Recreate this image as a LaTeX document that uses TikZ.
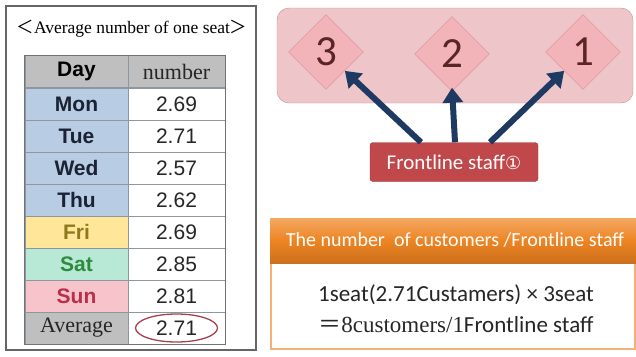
\documentclass[tikz,border=0pt]{standalone}
\usepackage{fontspec}
\setmainfont{Liberation Serif}
\newfontfamily\tabsans{Liberation Sans}
\newfontfamily\calib{Carlito}
\newfontfamily\cjk{Noto Sans CJK JP}
\newfontfamily\symb{DejaVu Sans}
\usetikzlibrary{arrows.meta,shapes.geometric}

\definecolor{hdrgray}{HTML}{BFBFBF}
\definecolor{cellline}{HTML}{8E96A0}
\definecolor{wkblue}{HTML}{B8CCE4}
\definecolor{wktext}{HTML}{1A2233}
\definecolor{friyel}{HTML}{FFE699}
\definecolor{fritext}{HTML}{8C7A1E}
\definecolor{satgrn}{HTML}{B8E8D6}
\definecolor{sattext}{HTML}{2E8B3E}
\definecolor{sunpink}{HTML}{F8C4CC}
\definecolor{suntext}{HTML}{B8304A}
\definecolor{ringred}{HTML}{A8404E}
\definecolor{panelpink}{HTML}{EEC6C9}
\definecolor{paneledge}{HTML}{C98A90}
\definecolor{diafill}{HTML}{F2B4B8}
\definecolor{diaedge}{HTML}{D98E96}
\definecolor{digit}{HTML}{5A2525}
\definecolor{staffred}{HTML}{C0474A}
\definecolor{arrownavy}{HTML}{1F3A62}
\definecolor{hdrorange}{HTML}{EE8422}
\definecolor{boxorange}{HTML}{F4B27A}

\tikzset{
  daycell/.style={draw=cellline, minimum width=103, minimum height=32, inner sep=0pt,
    font=\tabsans\bfseries\fontsize{21}{21}\selectfont},
  numcell/.style={draw=cellline, fill=white, minimum width=97, minimum height=32, inner sep=0pt,
    text=black!85, font=\tabsans\fontsize{21}{21}\selectfont},
  seatbox/.style={diamond, draw=diaedge, fill=diafill, minimum width=75, minimum height=75,
    inner sep=0pt, text=digit, font=\calib\fontsize{43}{43}\selectfont},
  bigarrow/.style={arrownavy, line width=6, -{Triangle[length=15,width=20]}},
  bodyline/.style={font=\calib\fontsize{23}{23}\selectfont, text=black!85}
}

\begin{document}
\begin{tikzpicture}[x=1pt,y=-1pt]
  \useasboundingbox (0,0) rectangle (636,356);
  % Panel 1: average per seat table
  \begin{scope}
    \draw[black!60, line width=1.2] (6,6) rectangle (256,350);
    \node (title) at (132,29) {\fontsize{17.5}{17.5}\selectfont{\cjk ＜}Average number of one seat{\cjk ＞}};
    \node[daycell, fill=hdrgray, text=black] (dayhead) at (76.5,71.5) {Day};
    \node[numcell, fill=hdrgray, font=\fontsize{22}{22}\selectfont] (numhead) at (176.5,71.5) {number};
    \node[daycell, fill=wkblue, text=wktext] (mon) at (76.5,104) {Mon};
    \node[numcell] (monnum) at (176.5,104) {2.69};
    \node[daycell, fill=wkblue, text=wktext] (tue) at (76.5,136) {Tue};
    \node[numcell] (tuenum) at (176.5,136) {2.71};
    \node[daycell, fill=wkblue, text=wktext] (wed) at (76.5,168) {Wed};
    \node[numcell] (wednum) at (176.5,168) {2.57};
    \node[daycell, fill=wkblue, text=wktext] (thu) at (76.5,200) {Thu};
    \node[numcell] (thunum) at (176.5,200) {2.62};
    \node[daycell, fill=friyel, text=fritext] (fri) at (76.5,232) {Fri};
    \node[numcell] (frinum) at (176.5,232) {2.69};
    \node[daycell, fill=satgrn, text=sattext] (sat) at (76.5,264) {Sat};
    \node[numcell] (satnum) at (176.5,264) {2.85};
    \node[daycell, fill=sunpink, text=suntext] (sun) at (76.5,296) {Sun};
    \node[numcell] (sunnum) at (176.5,296) {2.81};
    \node[daycell, fill=hdrgray, text=black!85, font=\fontsize{22}{22}\selectfont] (avg) at (76.5,328) {Average};
    \node[numcell] (avgnum) at (176.5,328) {2.71};
    \draw[ringred, line width=1.3] (avgnum) ellipse (41 and 14);
    \draw[black!55, line width=1] (dayhead.north west) rectangle (avgnum.south east);
  \end{scope}
  % Panel 2: seats served by one staff
  \begin{scope}
    \draw[paneledge, fill=panelpink, rounded corners=12] (277,8) rectangle (633,103);
    \node[seatbox] (seat3) at (326,52) {3};
    \node[seatbox] (seat2) at (452,54) {2};
    \node[seatbox] (seat1) at (583,52) {1};
    \node[fill=staffred, draw=staffred!80!black, rounded corners=3, minimum width=168, minimum height=39,
      text=white, font=\calib\fontsize{21}{21}\selectfont] (staff) at (454,162) {Frontline staff{\symb\fontsize{18}{18}\selectfont ①}};
    \draw[bigarrow] ([xshift=-33]staff.north) -- (seat3.south east);
    \draw[bigarrow] ([xshift=1]staff.north) -- ([yshift=4]seat2.south);
    \draw[bigarrow] ([xshift=36]staff.north) -- (seat1.south west);
  \end{scope}
  % Panel 3: customers per staff
  \begin{scope}
    \draw[boxorange, line width=1.5, fill=white] (271,262) rectangle (635,349);
    \shade[top color=hdrorange!70, bottom color=hdrorange!85!black, middle color=hdrorange] (270,218) rectangle (636,263);
    \node[text=white, font=\calib\fontsize{20}{20}\selectfont] (calchead) at (455,240) {The number\ \ of customers /Frontline staff};
    \node[bodyline] (calc1) at (456,295) {1seat(2.71Custamers) × 3seat};
    \node[bodyline] (calc2) at (456,325) {{\cjk ＝}{\rmfamily 8customers/1}Frontline staff};
  \end{scope}
\end{tikzpicture}
\end{document}
